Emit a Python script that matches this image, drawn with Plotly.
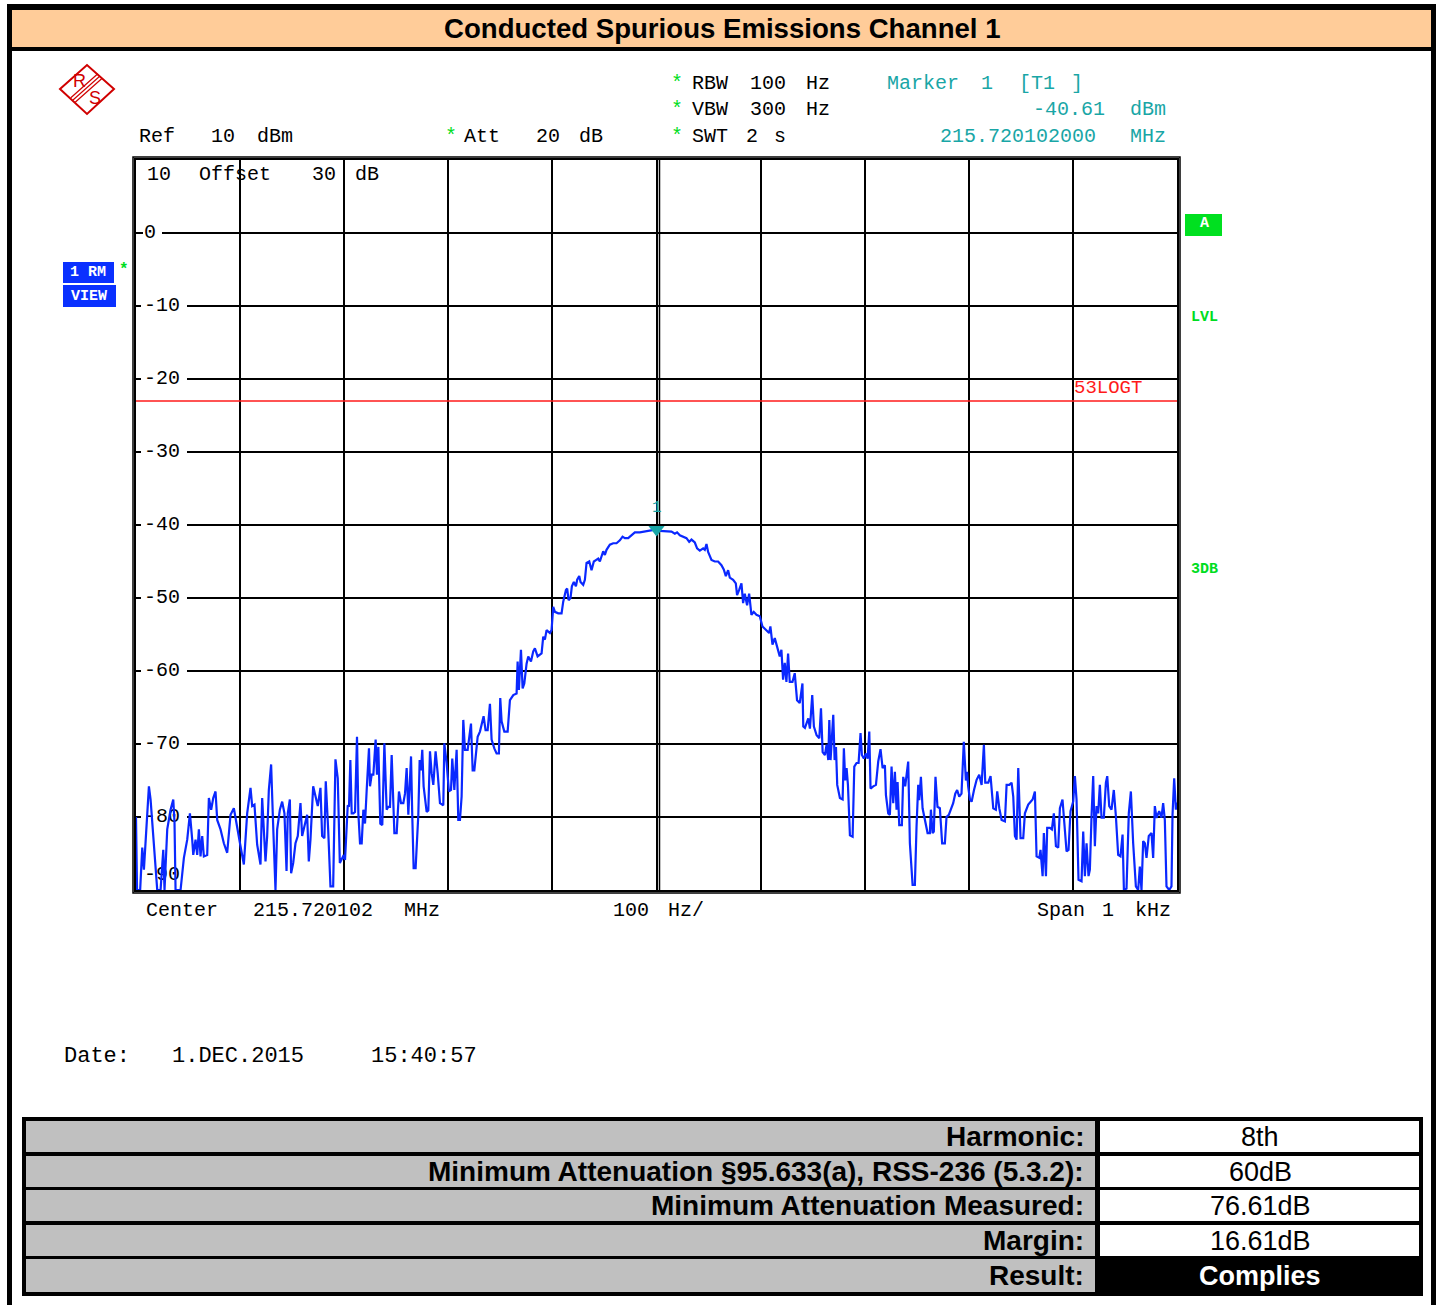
import plotly.graph_objects as go

# ---------------- data (offset from centre frequency in Hz, level in dBm) ----------------
seg_a_hz = [-500, -499, -496, -494, -492.4, -487.6, -486, -484.4, -482.8, -479.6, -476.4, -473.8, -472.6, -470,
            -466.8, -464.2, -463, -462, -457.2, -454, -450.8, -448.2, -446, -445, -442.8, -441.2, -439.6, -438,
            -436.4, -434.8, -431.6, -430, -427.8, -425.8, -423.6, -422, -418.8, -415.6, -412.4, -409.2, -406,
            -402.8, -399.6, -396.4, -393.2, -390, -388.4, -386.2, -383.6, -380.4, -378.8, -375.6, -374, -372.4,
            -370.2, -368.2, -366, -364.4, -361.8, -359.6, -357.4, -355.4, -354.2, -352.2, -351, -349, -346.8,
            -344.6, -342, -340.4, -338.2, -335.6, -334, -332.4, -329.8, -327.6, -325.4, -322.8, -321.2, -319,
            -317.7, -315.4, -313.2, -310.6, -308.4, -306.2, -304.2, -300.4]
seg_a_db = [-80, -90, -90, -84.2, -87.2, -75.8, -77.6, -80.8, -83.1, -90, -90, -84.5, -90, -81.7, -79, -77.6,
            -80.8, -90, -90, -85.6, -83.1, -79.5, -83.1, -85.2, -83.1, -85.2, -81.7, -85.4, -82.6, -85.4, -85.2,
            -77.4, -79, -77.4, -76.5, -80.4, -81.7, -83.6, -84.9, -79.7, -78.8, -81.7, -84, -86.5, -79.5, -76,
            -78.5, -78.3, -83.8, -86.5, -77.4, -86.1, -82.6, -76.3, -72.8, -81.3, -90, -81.7, -79, -77.9, -79.5,
            -87.4, -79.5, -77.6, -87.7, -86.3, -83.6, -82.6, -78.1, -82.6, -81.3, -79.7, -86.1, -83.1, -75.8,
            -77.2, -78.5, -76, -82.6, -82.9, -75.1, -81.7, -89.5, -89.5, -72.1, -74.7, -86.3, -85.2]

seg_b_hz = [-299.2, -296.6, -295.4, -294.1, -292.8, -291.2, -289.6, -287.7, -286.4, -284.8, -283.2, -281.6,
            -280, -278.4, -276.2, -275.2, -273.6, -272, -269.8, -268.5, -267.2, -265.3, -263.4, -261.4, -259.2,
            -257.6, -256, -254.4, -251.8, -249.6, -247.4, -245.4, -243.2, -241.6, -240, -238.4, -235.8, -234.6,
            -233.3, -231.4, -230.1, -228.8, -227.5, -226.2, -225, -223.7, -220.8, -219.2, -217.6, -216, -214.4,
            -212.2, -210.2, -208, -204.8, -203.8, -201.6, -199.4, -197.4, -196.2, -194.2, -192, -190.4, -188.8,
            -187.2, -185.6, -184, -181.4, -178.2, -176.6, -175, -173.8, -171.8, -169.6, -167.4, -166.1, -164.2,
            -162.2, -160, -158.4, -155.8, -153.6, -151.4, -150.1, -148.8, -146.2, -143, -140.8, -137.6, -134.4,
            -133.4, -132.2, -130.2, -128.6, -127, -124.8, -123.2, -120.6, -118.4, -116.8, -114.2, -112, -110.4,
            -108.8, -107.2, -105.6, -102.4, -100.8]
seg_b_db = [-85.9, -78.4, -78.6, -72.2, -79.5, -79.5, -79.3, -69, -79.5, -83.6, -83.6, -79, -80.9, -76.3, -70.6,
            -75.8, -74.2, -74.2, -69.4, -74.2, -70.4, -80.9, -81.1, -69.9, -79, -78.6, -78.6, -71.5, -82.2, -82.2,
            -76.5, -78.1, -78.1, -76.8, -73.3, -79.7, -71.7, -79.9, -87, -87, -84.1, -79.7, -72.2, -73.6, -70.8,
            -75.8, -79.3, -79.1, -71, -74, -75.6, -71, -74, -78.1, -78.4, -69.9, -72.6, -76.5, -76.3, -72, -76.3,
            -70.8, -80.4, -80.4, -77.2, -66.7, -70.8, -70.8, -67.2, -73.6, -73.6, -71.7, -69, -68.3, -66.9, -66.2,
            -68.1, -68.1, -64.5, -69.4, -70.6, -71.3, -71.3, -63.7, -66.9, -68.3, -68.3, -64, -63.3, -63.1, -58.7,
            -62.6, -57.1, -62.4, -61.7, -59, -58, -58.7, -57.3, -56.9, -58, -57.8, -57.6, -55.3, -55.7, -54.4,
            -54.8, -54.4]

seg_c_hz = [-99.2, -97.6, -94.4, -91.2, -89.6, -87, -85.8, -84.5, -82.6, -81.3, -79.4, -77.4, -76.2, -74.2, -73,
            -70.4, -68.8, -67.2, -64.6, -62.4, -60.2, -58.2, -56, -54.4, -51.2, -49.6, -48, -44.8, -41.6, -38.4,
            -35.2, -32.6, -30.4, -27.2, -24, -20.8, -16, -12.8, -9.6, -6.4, -3.2, 0, 3.2, 6.4, 11.2, 14.4, 17.6,
            19.8, 22.4, 25.6, 28.8, 31.4, 33.6, 36.8, 39, 41.6, 44.8, 46.4, 48, 49.6, 52.8, 56, 59.2, 62.4, 64.6,
            66.6, 68.8, 70.4, 73.6, 76.2, 77.4, 79.4, 81.6, 83.2, 84.8, 87, 89, 91.2, 93.4, 96, 99.2, 101.8, 105,
            108.2, 109.4, 111.4, 113.6, 115.8, 118.4, 120, 121.6, 123.2, 124.8, 126.4, 128, 130.6, 132.8, 135,
            137.6, 140.2]
seg_c_db = [-51.2, -51.9, -52.1, -52.1, -50.5, -48.9, -48.7, -50.3, -50, -48.4, -47.8, -48.4, -47.5, -47, -47.8,
            -48.2, -47.5, -45.2, -45, -46.2, -45, -44.8, -44.6, -45, -43.6, -44.1, -43.4, -42.7, -42.5, -42.5,
            -42.1, -41.6, -41.8, -41.8, -41.4, -41, -41, -40.9, -40.9, -40.8, -40.7, -40.6, -40.8, -40.8, -40.8,
            -40.9, -41.2, -41, -41.4, -41.6, -41.8, -42.3, -42, -42.4, -43.2, -43.5, -43.2, -43.4, -42.6, -43.7,
            -44.8, -45, -45, -45.5, -46.1, -47, -46.2, -47.2, -47.5, -48, -49.6, -48.9, -48, -50.7, -49.4, -51,
            -49.4, -52.3, -51.9, -52.3, -52.5, -53.9, -54.4, -54.8, -53.9, -56.4, -55.5, -56.7, -58, -57.1, -61.2,
            -58.9, -61.5, -57.6, -61.5, -61.5, -60.3, -64, -64.4, -61.7]

seg_d_hz = [141, 142.6, 145.8, 147.4, 149.6, 151.2, 153.8, 156.4, 158, 159.6, 161.8, 163.4, 165, 166, 167.2,
            169.8, 171.1, 172.4, 173.6, 176.2, 178.8, 180, 181.3, 182.6, 183.9, 185.8, 188.4, 190, 192.2, 194.1,
            196, 197.3, 199.2, 201.2, 202.8, 204.4, 205.6, 208.2, 210.8, 213, 215.2, 217.2, 219.4, 220.4, 222.6,
            224.2, 225.8, 227.4, 229, 230.6, 231.6, 233.2, 235.7, 237, 238.9, 241.8, 243.4, 246, 248.2, 249.8,
            251.4, 252.4, 254, 255.6, 257.8, 260.4, 262.6, 263.6, 265.2, 266.4, 268, 269.9, 272.2, 274.4, 277,
            278.6, 280.8, 282.8, 285, 287, 288.8, 290.8, 293, 295.2, 297.2, 298.4, 299.4]
seg_d_db = [-67.6, -67.8, -66.5, -67.9, -63.3, -67.6, -68.8, -69.2, -65.1, -71.1, -71.5, -70.1, -72.2, -66.7,
            -72.2, -66, -72.2, -70.4, -75.6, -77.4, -77.6, -70.6, -75, -73.3, -75.6, -82.5, -82.7, -73.1, -72.6,
            -72.6, -68.5, -71.5, -72, -71.3, -72, -68.3, -76.1, -75.8, -75.6, -72.4, -70.7, -73.3, -72.9, -77,
            -79.5, -79.7, -73.1, -78.1, -73.8, -79, -75.2, -81.1, -81.1, -74.5, -75.8, -72.4, -83.6, -89.3, -89.3,
            -81.3, -75.6, -77.7, -74.5, -78.8, -80.4, -82.2, -82.2, -79, -82.2, -82, -74.5, -78.6, -78.8, -83.6,
            -83.6, -80, -79.7, -79, -78.1, -76.8, -76.3, -77.2, -76.8, -69.7, -75, -73.8, -75.8]

seg_e_hz = [301.1, 302.7, 305, 307.5, 310, 312.3, 314.5, 315.8, 318.7, 320.9, 323.5, 326, 327.3, 329.3, 331.5,
            334.7, 336.3, 338.9, 341.1, 342.7, 344.3, 345.9, 347.5, 349.7, 352.3, 353.9, 357.1, 359.3, 361.3,
            363.5, 365.1, 367.7, 368.9, 370.9, 372.1, 374.1, 375.3, 377.9, 379.8, 381.7, 383.7, 385.9, 387.5, 390,
            392.3, 393.9, 395.8, 397.7, 400.3, 401.9, 403.5, 405.4, 408.3, 409.9, 411.5, 413.1, 415, 416.3, 417.9,
            419.5, 421.1, 422.7, 424.3, 425.9, 427.5, 429.7, 431.7, 433, 434.9, 437.1, 439.3, 441.3, 443.5, 445.7,
            447.7, 449, 451.5, 453.7, 455.7, 457.9, 460.5, 462.7, 464.3, 465.9, 467.5, 469.1, 470.7, 472.9, 475.5,
            477.1, 478.7, 480.3, 482.9, 485.1, 486.7, 488.3, 489.9, 492.5, 494.7, 495.7, 497.3, 498.9, 500]
seg_e_db = [-77.6, -77.9, -76.3, -74.9, -74.2, -75.6, -70.1, -75.3, -75.3, -74.4, -78.8, -79, -76.5, -78.8,
            -80.4, -80.6, -75.6, -75.6, -75.3, -77.2, -82.6, -83.1, -73.3, -82.9, -82.9, -79.5, -78.3, -77.9,
            -77.6, -76.5, -85.4, -85.6, -84.5, -88.1, -82.2, -88.1, -81.5, -81.5, -81.7, -79.5, -84, -84.2, -78.8,
            -77.6, -81.7, -84.7, -84.5, -79.2, -77.9, -74.4, -77.6, -88.6, -88.8, -82, -88.1, -83.6, -88.1, -87.2,
            -79.9, -74.4, -84, -78.5, -79.5, -75.6, -80.1, -80.1, -75.3, -74.4, -78.5, -79, -76.3, -79.9, -85.2,
            -85.4, -82.4, -90, -89.8, -79.5, -76.5, -83.6, -89.5, -90, -86.8, -90, -83.3, -83.6, -85.6, -82.6,
            -82.2, -85.6, -78.5, -80.1, -79.2, -80.1, -78.1, -80.4, -89.5, -90, -89.5, -79.7, -74.7, -79, -78]

ref_level_dbm = 10
bottom_dbm = -90
half_span_hz = 500
grid_div_hz = 100
marker_hz = 0
marker_dbm = -40.61
limit_dbm = -23.0
grid_levels = [0, -10, -20, -30, -40, -50, -60, -70, -80]
ylabel_text = ["0", "-10", "-20", "-30", "-40", "-50", "-60", "-70", "-80", "-90"]
ylabel_vals = [0, -10, -20, -30, -40, -50, -60, -70, -80, -88]

table_labels = ["Harmonic:", "Minimum Attenuation §95.633(a), RSS-236 (5.3.2):",
                "Minimum Attenuation Measured:", "Margin:", "Result:"]
table_values = ["8th", "60dB", "76.61dB", "16.61dB", "Complies"]

# ---------------- layout helpers ----------------
W, H = 1439, 1305
PL, PT, PW, PH = 136, 160, 1041, 730
MONO = "Liberation Mono, DejaVu Sans Mono, monospace"
SANS = "Liberation Sans, Arial, sans-serif"
TRACE_BLUE = "#0A28FF"
TEAL = "#19A6A6"
GREEN = "#00DD22"
RED = "#FF1A1A"
LOGO_RED = "#D00000"
BOX_BLUE = "#0A30FF"


def xp(X):
    return (X - PL) / PW


def yp(Y):
    return (PT + PH - Y) / PH


def px_to_hz(X):
    return -half_span_hz + (X - PL) / PW * 2 * half_span_hz


shapes = []
ann = []


def rect(x0, y0, x1, y1, fill, layer="above"):
    shapes.append(dict(type="rect", xref="paper", yref="paper", x0=xp(x0), x1=xp(x1), y0=yp(y0), y1=yp(y1),
                       fillcolor=fill, line=dict(width=0), layer=layer))


def line(x0, y0, x1, y1, color="black", width=2, layer="above"):
    shapes.append(dict(type="line", xref="paper", yref="paper", x0=xp(x0), x1=xp(x1), y0=yp(y0), y1=yp(y1),
                       line=dict(color=color, width=width), layer=layer))


def text(s, X, Y, color="black", size=20, xa="center", bold=False, fam=MONO):
    ann.append(dict(text=f"<b>{s}</b>" if bold else s, x=xp(X), y=yp(Y), xref="paper", yref="paper",
                    xanchor=xa, yanchor="middle", showarrow=False,
                    font=dict(family=fam, size=size, color=color)))


# ---------------- page frame & title bar ----------------
rect(7, 4, 1436, 51, "black")
rect(12, 10, 1431, 47, "#FFCC99")
rect(7, 4, 12, 1305, "black")
rect(1431, 4, 1436, 1305, "black")
text("Conducted Spurious Emissions Channel 1", 722, 28, size=27.6, bold=True, fam=SANS)

# ---------------- R&S logo ----------------
shapes.append(dict(type="path", xref="paper", yref="paper",
                   path=f"M {xp(60)},{yp(89)} L {xp(87)},{yp(65)} L {xp(114)},{yp(89)} L {xp(87)},{yp(114)} Z",
                   line=dict(color=LOGO_RED, width=2)))
for d in (-2.2, 0, 2.2):
    line(100 + d, 76 + d, 73 + d, 100 + d, color=LOGO_RED, width=1.2)
text("R", 79, 81, color=LOGO_RED, size=18, fam=SANS)
text("S", 95, 98, color=LOGO_RED, size=18, fam=SANS)

# ---------------- instrument header ----------------
for s, X, c in [("*", 677, GREEN), ("RBW", 710, "black"), ("100", 768, "black"), ("Hz", 818, "black"),
                ("Marker", 923, TEAL), ("1", 987, TEAL), ("[T1", 1037, TEAL), ("]", 1077, TEAL)]:
    text(s, X, 84, color=c)
for s, X, c in [("*", 677, GREEN), ("VBW", 710, "black"), ("300", 768, "black"), ("Hz", 818, "black"),
                ("-40.61", 1069, TEAL), ("dBm", 1148, TEAL)]:
    text(s, X, 110, color=c)
for s, X, c in [("Ref", 157, "black"), ("10", 223, "black"), ("dBm", 275, "black"), ("*", 451, GREEN),
                ("Att", 482, "black"), ("20", 548, "black"), ("dB", 591, "black"), ("*", 677, GREEN),
                ("SWT", 710, "black"), ("2", 752, "black"), ("s", 780, "black"),
                ("215.720102000", 1018, TEAL), ("MHz", 1148, TEAL)]:
    text(s, X, 137, color=c)
for s, X in [("10", 159), ("Offset", 235), ("30", 324), ("dB", 367)]:
    text(s, X, 175)
for s, X in [("Center", 182), ("215.720102", 313), ("MHz", 422), ("100", 631), ("Hz/", 686),
             ("Span", 1061), ("1", 1108), ("kHz", 1153)]:
    text(s, X, 910)
for s, X in [("Date:", 97), ("1.DEC.2015", 238), ("15:40:57", 424)]:
    text(s, X, 1056, size=22)

# left side trace info boxes
rect(63, 262, 114, 283, BOX_BLUE)
rect(63, 285, 116, 307, BOX_BLUE)
text("1 RM", 88, 272, color="white", size=15, bold=True)
text("VIEW", 89, 296, color="white", size=15, bold=True)
text("*", 124, 270, color=GREEN, size=16, bold=True)

# right side labels
rect(1185, 214, 1222, 236, "#00E020")
text("A", 1204, 224, color="white", size=15, bold=True)
text("LVL", 1204, 317, color=GREEN, size=15, bold=True)
text("3DB", 1204, 569, color=GREEN, size=15, bold=True)

# ---------------- grid (horizontal lines with label gaps) ----------------
for lv, lab in zip(grid_levels, ylabel_text):
    Y = PT + (ref_level_dbm - lv) / (ref_level_dbm - bottom_dbm) * PH
    gl, gr = (143, 162) if len(lab) == 1 else (141, 187)
    line(PL, Y, gl, Y, color="black", width=2, layer="below")
    line(gr, Y, PL + PW, Y, color="black", width=2, layer="below")
# doubled centre line and doubled frame
line(659.5, PT, 659.5, PT + PH, color="black", width=1.5, layer="below")
shapes.append(dict(type="rect", xref="paper", yref="paper", x0=xp(133), x1=xp(1180), y0=yp(157), y1=yp(893),
                   line=dict(color="black", width=1.5), fillcolor="rgba(0,0,0,0)"))

# limit line
shapes.append(dict(type="line", xref="paper", yref="y", x0=0, x1=1, y0=limit_dbm, y1=limit_dbm,
                   line=dict(color=RED, width=1.5)))
text("53LOGT", 1108, 388, color=RED, size=19)

# ---------------- result table ----------------
rect(22, 1117, 1423, 1296, "black")
rows = [(1121, 1152), (1156, 1187), (1190, 1221), (1225, 1256), (1259, 1292)]
for i, ((y0, y1), lab, val) in enumerate(zip(rows, table_labels, table_values)):
    rect(26, y0, 1095, y1, "#C0C0C0")
    last = i == len(rows) - 1
    if not last:
        rect(1100, y0, 1419, y1, "white")
    yc = (y0 + y1) / 2
    text(lab, 1086, yc, size=28, bold=True, fam=SANS, xa="right")
    text(val, 1260, yc, size=27, bold=last, fam=SANS, color="white" if last else "black")

# ---------------- traces ----------------
all_hz = seg_a_hz + seg_b_hz + seg_c_hz + seg_d_hz + seg_e_hz
all_db = seg_a_db + seg_b_db + seg_c_db + seg_d_db + seg_e_db

fig = go.Figure()
fig.add_trace(go.Scatter(x=[px_to_hz(144)] * len(ylabel_vals), y=ylabel_vals, text=ylabel_text, mode="text",
                         textposition="middle right", textfont=dict(family=MONO, size=20, color="black"),
                         hoverinfo="skip", cliponaxis=False))
fig.add_trace(go.Scatter(x=all_hz, y=all_db, mode="lines", line=dict(color=TRACE_BLUE, width=2.2)))
fig.add_trace(go.Scatter(x=[marker_hz], y=[marker_dbm], mode="markers", hoverinfo="skip",
                         marker=dict(symbol="triangle-down", size=14, color=TEAL, line=dict(width=0)),
                         cliponaxis=False))
ann.append(dict(x=marker_hz, y=marker_dbm, xref="x", yref="y", text="1", showarrow=False, yshift=21,
                font=dict(family=MONO, size=16, color=TEAL)))

fig.update_layout(
    width=W, height=H, margin=dict(l=PL, t=PT, r=W - PL - PW, b=H - PT - PH, pad=0),
    paper_bgcolor="white", plot_bgcolor="white", showlegend=False,
    xaxis=dict(range=[-half_span_hz, half_span_hz], tick0=-half_span_hz, dtick=grid_div_hz, showgrid=True,
               gridcolor="black", gridwidth=2, showticklabels=False, ticks="", zeroline=False,
               showline=True, linecolor="black", linewidth=2, mirror=True, fixedrange=True),
    yaxis=dict(range=[bottom_dbm, ref_level_dbm], showgrid=False, showticklabels=False, ticks="",
               zeroline=False, showline=True, linecolor="black", linewidth=2, mirror=True, fixedrange=True),
    shapes=shapes, annotations=ann,
)

fig.write_html("out.html", post_script="document.body.style.margin='0';document.body.style.overflow='hidden';",
               config={"displayModeBar": False})
